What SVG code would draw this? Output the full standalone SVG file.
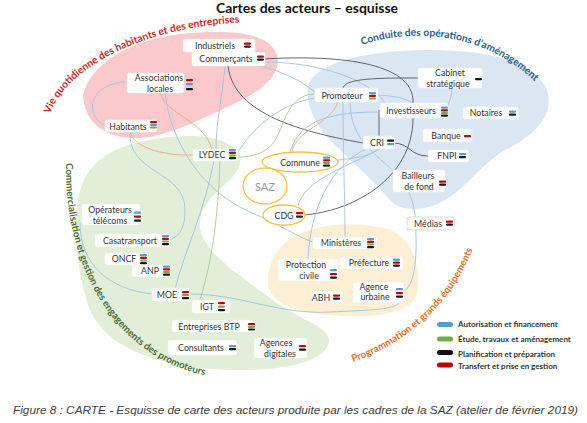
<svg xmlns="http://www.w3.org/2000/svg" width="587" height="423" viewBox="0 0 587 423">
<style>
.t{font-family:Lato,"Liberation Sans",sans-serif;font-size:8.8px;fill:#333;text-anchor:middle}
.box{fill:#fff;stroke:#f2f2f2;stroke-width:0.6}
.b{fill:#5b9bd5}.r{fill:#c00000}.g{fill:#70ad47}.k{fill:#1a1a1a}
.cb{fill:none;stroke:#9fc3e3;stroke-width:0.9}
.ck{fill:none;stroke:#555;stroke-width:0.9}
.co{fill:none;stroke:#f0a878;stroke-width:0.9}
.cg{fill:none;stroke:#a8cf8a;stroke-width:0.9}
.ell{fill:#fff;stroke:#f3c544;stroke-width:1.3}
.arc{font-family:Lato,"Liberation Sans",sans-serif;font-size:9.6px;font-weight:bold}
.lg{font-family:Lato,"Liberation Sans",sans-serif;font-size:8px;font-weight:bold;fill:#333}
</style>
<defs>
<path id="pRed" d="M50,114 C65,70 140,26 248,22"/>
<path id="pBlue" d="M362,45 C420,25 500,35 550,98"/>
<path id="pGreen" d="M66,163 C64,260 110,360 214,377"/>
<path id="pOrange" d="M353,362 C400,345 452,310 476,240"/>
</defs>
<rect width="587" height="423" fill="#fff"/>
<text x="307" y="13" style="font-family:Lato,'Liberation Sans',sans-serif;font-size:14px;font-weight:bold;fill:#111;text-anchor:middle">Cartes des acteurs – esquisse</text>

<g id="zones">
<path d="M83,95 C90,65 130,38 190,33 C230,30 270,32 277,55 C282,75 262,92 225,108 C200,120 180,130 150,137 C115,142 85,130 83,95 Z" fill="#fbc8cb"/>
<path d="M312,78 C330,58 380,50 430,50 C490,50 535,62 547,90 C555,115 535,135 505,150 C480,165 470,185 445,200 C425,212 400,212 390,200 C375,182 350,160 330,140 C315,125 300,95 312,78 Z" fill="#dbe6f3"/>
<path d="M150,140 C190,132 235,135 240,158 C243,180 205,190 200,220 C196,250 240,275 280,305 C310,325 340,330 325,350 C305,372 240,372 200,368 C150,362 105,345 90,310 C75,270 70,205 85,178 C98,155 120,145 150,140 Z" fill="#e2eed8"/>
<path d="M275,255 C290,228 340,218 385,228 C410,235 420,260 418,290 C415,315 370,318 330,315 C290,312 265,300 268,278 C269,268 271,262 275,255 Z" fill="#fdefd3"/>
</g>

<g id="arc-labels">
<text class="arc" fill="#c62b2b" style="font-size:10.3px"><textPath href="#pRed">Vie quotidienne des habitants et des entreprises</textPath></text>
<text class="arc" fill="#2f5b8c" style="font-size:10.2px"><textPath href="#pBlue">Conduite des opérations d’aménagement</textPath></text>
<text class="arc" fill="#4b6b37" style="font-size:9.8px"><textPath href="#pGreen">Commercialisation et gestion des engagements des promoteurs</textPath></text>
<text class="arc" fill="#d9722d" style="font-size:9.8px"><textPath href="#pOrange">Programmation et grands équipements</textPath></text>
</g>

<g id="connectors">
<path class="cb" d="M127,82 C95,82 80,110 105,126"/>
<path class="co" d="M130,132 C135,150 170,156 193,155"/>
<path class="co" d="M160,92 C165,115 205,120 212,150"/>
<path class="cb" d="M130,132 C128,175 185,170 185,210 C185,230 178,238 168,240"/>
<path class="cb" d="M165,92 C170,140 200,190 250,212 C280,225 300,238 313,242"/>
<path class="cb" d="M225,65 C222,100 216,120 216,150"/>
<path class="ck" d="M228,65 C232,110 290,130 363,143"/>
<path class="ck" d="M264,59 C330,55 415,60 413,103"/>
<path class="cb" d="M264,62 C320,62 370,80 385,103"/>
<path class="cb" d="M255,65 C280,70 300,80 315,92"/>
<path class="ck" d="M418,78 C380,78 345,78 343,88"/>
<path class="ck" d="M379,110 L379,136"/>
<path class="ck" d="M303,215 C350,212 413,180 413,118"/>
<path class="ck" d="M393,143 C410,143 410,156 428,156"/>
<path class="cb" d="M452,88 C452,95 450,100 447,108"/>
<path class="cb" d="M377,95 C395,96 405,98 412,103"/>
<path class="cb" d="M343,102 C343,150 345,200 345,237"/>
<path class="cb" d="M368,148 C330,165 310,210 308,260"/>
<path class="cb" d="M350,102 C350,160 410,160 415,215 C418,260 415,285 403,292"/>
<path class="cb" d="M80,223 C80,265 110,290 153,294"/>
<path class="cb" d="M190,294 C240,294 280,315 330,312 C370,310 395,310 400,302"/>
<path class="cb" d="M214,160 C205,210 185,250 175,289"/>
<path class="cg" d="M220,160 C218,220 212,260 200,300"/>
<path class="cg" d="M314,94 C290,95 285,120 278,135 C270,152 255,157 238,157"/>
<path class="cb" d="M314,98 C280,105 255,125 238,152"/>
<path class="co" d="M292,152 C295,130 330,125 338,102"/>
<path class="cb" d="M338,160 C360,158 370,155 378,149"/>
<path class="cb" d="M298,206 C305,180 340,170 380,149"/>
<path class="cb" d="M380,112 C330,112 300,120 290,152"/>
</g>

<g id="saz-ellipses">
<ellipse class="ell" cx="300" cy="162" rx="38" ry="10"/>
<ellipse class="ell" cx="265" cy="186" rx="22" ry="18"/>
<ellipse class="ell" cx="284" cy="215" rx="21" ry="10"/>
</g>

<g id="industriels"><rect class="box" x="183" y="39" width="72" height="13" rx="2"/><text class="t" x="215" y="49">Industriels</text><rect class="r" x="244" y="42.5" width="7" height="2.2" rx="1"/><rect class="k" x="244" y="45.5" width="7" height="2.2" rx="1"/></g>
<g id="commercants"><rect class="box" x="192" y="52" width="73" height="14" rx="2"/><text class="t" x="226" y="62">Commerçants</text><rect class="r" x="257" y="55.5" width="7" height="2.2" rx="1"/><rect class="k" x="257" y="58.5" width="7" height="2.2" rx="1"/></g>
<g id="associations"><rect class="box" x="127" y="73" width="57" height="20" rx="2"/><text class="t" x="159" y="81">Associations</text><text class="t" x="160" y="92">locales</text><rect class="r" x="186" y="79" width="7" height="2.2" rx="1"/><rect class="b" x="186" y="83" width="7" height="2.2" rx="1"/><rect class="k" x="186" y="88" width="7" height="2.2" rx="1"/></g>
<g id="habitants"><rect class="box" x="105" y="120" width="52" height="12" rx="2"/><text class="t" x="128" y="129.5">Habitants</text><rect class="r" x="150" y="121" width="7" height="2.2" rx="1"/><rect class="b" x="150" y="123.7" width="7" height="2.2" rx="1"/><rect class="g" x="150" y="126.4" width="7" height="2.2" rx="1"/></g>
<g id="lydec"><rect class="box" x="193" y="149" width="45" height="12" rx="2"/><text class="t" x="212" y="158">LYDEC</text><rect class="b" x="229" y="149" width="7" height="2.2" rx="1"/><rect class="r" x="229" y="151.7" width="7" height="2.2" rx="1"/><rect class="g" x="229" y="154.4" width="7" height="2.2" rx="1"/><rect class="k" x="229" y="157.1" width="7" height="2.2" rx="1"/></g>

<g id="promoteur"><rect class="box" x="315" y="88" width="63" height="14" rx="2"/><text class="t" x="342" y="98.5">Promoteur</text><rect class="b" x="369" y="92" width="7" height="2.2" rx="1"/><rect class="r" x="369" y="94.7" width="7" height="2.2" rx="1"/><rect class="g" x="369" y="97.4" width="7" height="2.2" rx="1"/></g>
<g id="investisseurs"><rect class="box" x="380" y="103" width="68" height="15" rx="2"/><text class="t" x="411" y="114">Investisseurs</text><rect class="b" x="441" y="106.5" width="7" height="2.2" rx="1"/><rect class="r" x="441" y="109.2" width="7" height="2.2" rx="1"/><rect class="g" x="441" y="111.9" width="7" height="2.2" rx="1"/><rect class="k" x="441" y="114.6" width="7" height="2.2" rx="1"/></g>
<g id="cabinet"><rect class="box" x="418" y="68" width="64" height="20" rx="2"/><text class="t" x="450" y="76">Cabinet</text><text class="t" x="448" y="87">stratégique</text><rect class="k" x="475" y="78" width="7" height="2.2" rx="1"/></g>
<g id="notaires"><rect class="box" x="463" y="107" width="55" height="12" rx="2"/><text class="t" x="486" y="116">Notaires</text><rect class="b" x="509" y="110.5" width="7" height="2.2" rx="1"/><rect class="k" x="509" y="113.5" width="7" height="2.2" rx="1"/></g>
<g id="banque"><rect class="box" x="423" y="129" width="49" height="13" rx="2"/><text class="t" x="446" y="138.5">Banque</text><rect class="r" x="464" y="135" width="7" height="2.2" rx="1"/></g>
<g id="cri"><rect class="box" x="363" y="136" width="32" height="13" rx="2"/><text class="t" x="377" y="145.5">CRI</text><rect class="k" x="387" y="139.5" width="7" height="2.2" rx="1"/><rect class="b" x="387" y="143" width="7" height="2.2" rx="1"/></g>
<g id="fnpi"><rect class="box" x="428" y="150" width="41" height="12" rx="2"/><text class="t" x="447" y="159">FNPI</text><rect class="b" x="459" y="153" width="7" height="2.2" rx="1"/><rect class="k" x="459" y="156" width="7" height="2.2" rx="1"/></g>
<g id="bailleurs"><rect class="box" x="393" y="170" width="52" height="22" rx="2"/><text class="t" x="418" y="179">Bailleurs</text><text class="t" x="419" y="190">de fond</text><rect class="r" x="439" y="180.5" width="7" height="2.2" rx="1"/><rect class="k" x="439" y="183.5" width="7" height="2.2" rx="1"/></g>

<g id="commune"><text class="t" x="300" y="165.5">Commune</text><rect class="b" x="323" y="156.5" width="7" height="2.2" rx="1"/><rect class="r" x="323" y="159.2" width="7" height="2.2" rx="1"/><rect class="g" x="323" y="161.9" width="7" height="2.2" rx="1"/><rect class="k" x="323" y="164.6" width="7" height="2.2" rx="1"/></g>
<g id="saz"><text x="265" y="190.5" style="font-family:Lato,'Liberation Sans',sans-serif;font-size:11px;fill:#9a9a9a;text-anchor:middle">SAZ</text></g>
<g id="cdg"><text class="t" x="284" y="218.5">CDG</text><rect class="r" x="296" y="212" width="7" height="2.2" rx="1"/><rect class="k" x="296" y="215.5" width="7" height="2.2" rx="1"/></g>
<g id="medias"><rect x="407" y="217" width="47" height="13" rx="2" fill="#fff" stroke="#ccc" stroke-width="0.7"/><text class="t" x="428" y="226.5">Médias</text><rect class="r" x="446" y="220.5" width="7" height="2.2" rx="1"/><rect class="k" x="446" y="223.5" width="7" height="2.2" rx="1"/></g>

<g id="ministeres"><rect class="box" x="313" y="237" width="64" height="12" rx="2"/><text class="t" x="341" y="246">Ministères</text><rect class="b" x="367" y="238" width="7" height="2.2" rx="1"/><rect class="r" x="367" y="240.7" width="7" height="2.2" rx="1"/><rect class="g" x="367" y="243.4" width="7" height="2.2" rx="1"/><rect class="k" x="367" y="246.1" width="7" height="2.2" rx="1"/></g>
<g id="protection"><rect class="box" x="278" y="259" width="60" height="22" rx="2"/><text class="t" x="306" y="268">Protection</text><text class="t" x="309" y="279">civile</text><rect class="b" x="330" y="269" width="7" height="2.2" rx="1"/><rect class="r" x="330" y="273" width="7" height="2.2" rx="1"/><rect class="k" x="330" y="276.5" width="7" height="2.2" rx="1"/></g>
<g id="prefecture"><rect class="box" x="340" y="257" width="63" height="12" rx="2"/><text class="t" x="369" y="266">Préfecture</text><rect class="b" x="393" y="258.5" width="7" height="2.2" rx="1"/><rect class="r" x="393" y="261.5" width="7" height="2.2" rx="1"/><rect class="k" x="393" y="264.5" width="7" height="2.2" rx="1"/></g>
<g id="abh"><rect class="box" x="312" y="291" width="30" height="12" rx="2"/><text class="t" x="321" y="300.5">ABH</text><rect class="r" x="333" y="294.5" width="7" height="2.2" rx="1"/><rect class="k" x="333" y="297.5" width="7" height="2.2" rx="1"/></g>
<g id="agence-urbaine"><rect class="box" x="353" y="282" width="51" height="21" rx="2"/><text class="t" x="374" y="290">Agence</text><text class="t" x="375" y="300">urbaine</text><rect class="b" x="396" y="288" width="7" height="2.2" rx="1"/><rect class="r" x="396" y="292" width="7" height="2.2" rx="1"/><rect class="k" x="396" y="295.5" width="7" height="2.2" rx="1"/></g>

<g id="operateurs"><rect class="box" x="82" y="204" width="58" height="21" rx="2"/><text class="t" x="110" y="213">Opérateurs</text><text class="t" x="110" y="224">télécoms</text><rect class="b" x="134" y="211.5" width="7" height="2.2" rx="1"/><rect class="r" x="134" y="215.5" width="7" height="2.2" rx="1"/><rect class="k" x="134" y="219.5" width="7" height="2.2" rx="1"/></g>
<g id="casatransport"><rect class="box" x="95" y="234" width="75" height="13" rx="2"/><text class="t" x="130" y="243.5">Casatransport</text><rect class="b" x="162" y="235" width="7" height="2.2" rx="1"/><rect class="r" x="162" y="237.7" width="7" height="2.2" rx="1"/><rect class="g" x="162" y="240.4" width="7" height="2.2" rx="1"/><rect class="k" x="162" y="243.1" width="7" height="2.2" rx="1"/></g>
<g id="oncf"><rect class="box" x="105" y="253" width="43" height="12" rx="2"/><text class="t" x="124" y="262">ONCF</text><rect class="b" x="140" y="254" width="7" height="2.2" rx="1"/><rect class="r" x="140" y="256.7" width="7" height="2.2" rx="1"/><rect class="g" x="140" y="259.4" width="7" height="2.2" rx="1"/><rect class="k" x="140" y="262.1" width="7" height="2.2" rx="1"/></g>
<g id="anp"><rect class="box" x="132" y="265" width="38" height="12" rx="2"/><text class="t" x="150" y="274">ANP</text><rect class="b" x="163" y="265.5" width="7" height="2.2" rx="1"/><rect class="r" x="163" y="268.2" width="7" height="2.2" rx="1"/><rect class="g" x="163" y="270.9" width="7" height="2.2" rx="1"/><rect class="k" x="163" y="273.6" width="7" height="2.2" rx="1"/></g>
<g id="moe"><rect class="box" x="152" y="288" width="38" height="13" rx="2"/><text class="t" x="167" y="297.5">MOE</text><rect class="r" x="182" y="291" width="7" height="2.2" rx="1"/><rect class="g" x="182" y="294" width="7" height="2.2" rx="1"/><rect class="k" x="182" y="297" width="7" height="2.2" rx="1"/></g>
<g id="igt"><rect class="box" x="192" y="300" width="38" height="13" rx="2"/><text class="t" x="207" y="310">IGT</text><rect class="r" x="218" y="302" width="7" height="2.2" rx="1"/><rect class="g" x="218" y="305.5" width="7" height="2.2" rx="1"/><rect class="k" x="218" y="309" width="7" height="2.2" rx="1"/></g>
<g id="btp"><rect class="box" x="172" y="320" width="84" height="12" rx="2"/><text class="t" x="209" y="329.5">Entreprises BTP</text><rect class="r" x="248" y="323" width="7" height="2.2" rx="1"/><rect class="g" x="248" y="325.7" width="7" height="2.2" rx="1"/><rect class="k" x="248" y="328.4" width="7" height="2.2" rx="1"/></g>
<g id="consultants"><rect class="box" x="168" y="340" width="69" height="15" rx="2"/><text class="t" x="201" y="350.5">Consultants</text><rect class="b" x="229" y="345" width="7" height="2.2" rx="1"/><rect class="k" x="229" y="348" width="7" height="2.2" rx="1"/></g>
<g id="agences-digitales"><rect class="box" x="254" y="338" width="53" height="20" rx="2"/><text class="t" x="276" y="346">Agences</text><text class="t" x="280" y="357">digitales</text><rect class="r" x="299" y="345" width="7" height="2.2" rx="1"/><rect class="k" x="299" y="348.5" width="7" height="2.2" rx="1"/></g>

<g id="legend">
<rect x="437" y="322" width="16" height="5" rx="2.5" fill="#5b9bd5"/>
<rect x="437" y="336.5" width="16" height="5" rx="2.5" fill="#70ad47"/>
<rect x="437" y="350" width="16" height="5" rx="2.5" fill="#111"/>
<rect x="437" y="362.5" width="16" height="5" rx="2.5" fill="#c00000"/>
<text class="lg" x="458" y="327">Autorisation et financement</text>
<text class="lg" x="458" y="342">Étude, travaux  et aménagement</text>
<text class="lg" x="458" y="356.5">Planification et préparation</text>
<text class="lg" x="458" y="368.5">Transfert et prise en gestion</text>
</g>

<text x="13" y="414" textLength="565" lengthAdjust="spacingAndGlyphs" style="font-family:'Liberation Sans',Arial,sans-serif;font-size:10.2px;font-style:italic;fill:#404040">Figure 8 : CARTE - Esquisse de carte des acteurs produite par les cadres de la SAZ (atelier de février 2019)</text>
</svg>
